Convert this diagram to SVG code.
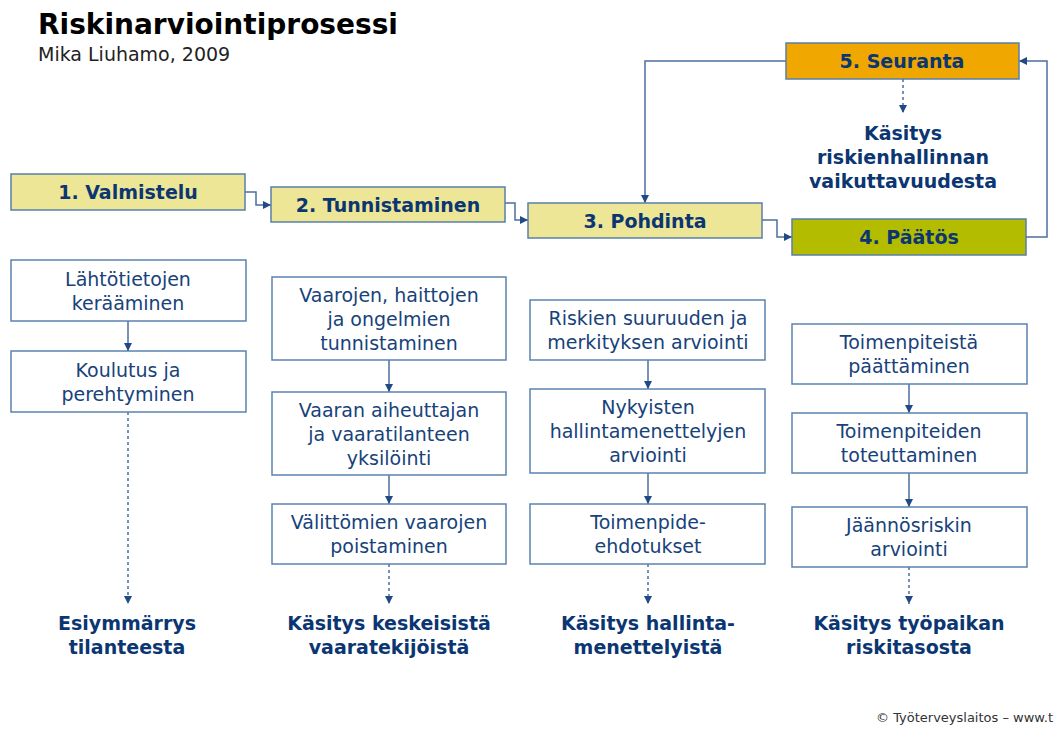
<svg xmlns="http://www.w3.org/2000/svg" width="1054" height="731" viewBox="0 0 1054 731">
<style>
.ph{stroke:#5a7fab;stroke-width:1.5}
.y{fill:#ede696}
.wb{fill:#ffffff;stroke:#5a82b0;stroke-width:1.5}
.pt{font-family:"DejaVu Sans",Verdana,sans-serif;font-weight:bold;font-size:19px;fill:#0b3672;text-anchor:middle}
.bt{font-family:"DejaVu Sans",Verdana,sans-serif;font-size:19px;fill:#17427a;text-anchor:middle}
.ot{font-family:"DejaVu Sans",Verdana,sans-serif;font-weight:bold;font-size:19px;fill:#0b3672;text-anchor:middle}
.c{fill:none;stroke:#4b6f9e;stroke-width:1.5}
.d{fill:none;stroke:#4b6f9e;stroke-width:1.5;stroke-dasharray:3,3}
</style>
<defs>
<marker id="ah" viewBox="0 0 8 8" markerWidth="8" markerHeight="8" refX="8" refY="4" orient="auto" markerUnits="userSpaceOnUse">
<path d="M0,0 L8,4 L0,8 z" fill="#1f4a85"/>
</marker>
</defs>
<rect width="1054" height="731" fill="#ffffff"/>
<g id="title">
<text x="38" y="34" font-family="DejaVu Sans,Verdana,sans-serif" font-weight="bold" font-size="28" fill="#000000">Riskinarviointiprosessi</text>
<text x="38" y="61" font-family="DejaVu Sans,Verdana,sans-serif" font-size="19" fill="#222222">Mika Liuhamo, 2009</text>
</g>
<g id="connectors">
<path class="c" d="M245,192 H256 V205 H271" marker-end="url(#ah)"/>
<path class="c" d="M505,203 H515 V220 H528" marker-end="url(#ah)"/>
<path class="c" d="M762,220 H777 V237 H792" marker-end="url(#ah)"/>
<path class="c" d="M1026,237 H1047 V61 H1019" marker-end="url(#ah)"/>
<path class="c" d="M786,61 H645 V203" marker-end="url(#ah)"/>
<path class="d" d="M903,79 V113" marker-end="url(#ah)"/>
<path class="c" d="M128,321 V351" marker-end="url(#ah)"/>
<path class="c" d="M389,360 V392" marker-end="url(#ah)"/>
<path class="c" d="M389,475 V504" marker-end="url(#ah)"/>
<path class="c" d="M648,360 V389" marker-end="url(#ah)"/>
<path class="c" d="M648,473 V504" marker-end="url(#ah)"/>
<path class="c" d="M909,384 V413" marker-end="url(#ah)"/>
<path class="c" d="M909,473 V507" marker-end="url(#ah)"/>
<path class="d" d="M128,412 V604" marker-end="url(#ah)"/>
<path class="d" d="M389,564 V604" marker-end="url(#ah)"/>
<path class="d" d="M648,564 V604" marker-end="url(#ah)"/>
<path class="d" d="M909,567 V604" marker-end="url(#ah)"/>
</g>
<g id="p1"><rect class="ph y" x="11" y="174" width="234" height="36"/><text class="pt" x="128" y="199">1. Valmistelu</text></g>
<g id="p2"><rect class="ph y" x="271" y="187" width="234" height="35"/><text class="pt" x="388" y="212">2. Tunnistaminen</text></g>
<g id="p3"><rect class="ph y" x="528" y="203" width="234" height="35"/><text class="pt" x="645" y="228">3. Pohdinta</text></g>
<g id="p4"><rect class="ph" fill="#b4bc00" x="792" y="219" width="234" height="36"/><text class="pt" x="909" y="244">4. Päätös</text></g>
<g id="p5"><rect class="ph" fill="#f0a800" x="786" y="43" width="233" height="36"/><text class="pt" x="902" y="68">5. Seuranta</text></g>
<g id="o5"><text class="ot" x="903" y="140">Käsitys</text><text class="ot" x="903" y="164">riskienhallinnan</text><text class="ot" x="903" y="188">vaikuttavuudesta</text></g>
<g id="b11"><rect class="wb" x="11" y="260" width="235" height="61"/><text class="bt" x="128" y="286">Lähtötietojen</text><text class="bt" x="128" y="310">kerääminen</text></g>
<g id="b12"><rect class="wb" x="11" y="351" width="235" height="61"/><text class="bt" x="128" y="377">Koulutus ja</text><text class="bt" x="128" y="401">perehtyminen</text></g>
<g id="b21"><rect class="wb" x="272" y="277" width="234" height="83"/><text class="bt" x="389" y="302">Vaarojen, haittojen</text><text class="bt" x="389" y="326">ja ongelmien</text><text class="bt" x="389" y="350">tunnistaminen</text></g>
<g id="b22"><rect class="wb" x="272" y="392" width="234" height="83"/><text class="bt" x="389" y="417">Vaaran aiheuttajan</text><text class="bt" x="389" y="441">ja vaaratilanteen</text><text class="bt" x="389" y="465">yksilöinti</text></g>
<g id="b23"><rect class="wb" x="272" y="504" width="234" height="60"/><text class="bt" x="389" y="529">Välittömien vaarojen</text><text class="bt" x="389" y="553">poistaminen</text></g>
<g id="b31"><rect class="wb" x="530" y="300" width="235" height="60"/><text class="bt" x="648" y="325">Riskien suuruuden ja</text><text class="bt" x="648" y="349">merkityksen arviointi</text></g>
<g id="b32"><rect class="wb" x="530" y="389" width="235" height="84"/><text class="bt" x="648" y="414">Nykyisten</text><text class="bt" x="648" y="438">hallintamenettelyjen</text><text class="bt" x="648" y="462">arviointi</text></g>
<g id="b33"><rect class="wb" x="530" y="504" width="235" height="60"/><text class="bt" x="648" y="529">Toimenpide-</text><text class="bt" x="648" y="553">ehdotukset</text></g>
<g id="b41"><rect class="wb" x="792" y="324" width="235" height="60"/><text class="bt" x="909" y="349">Toimenpiteistä</text><text class="bt" x="909" y="373">päättäminen</text></g>
<g id="b42"><rect class="wb" x="792" y="413" width="235" height="60"/><text class="bt" x="909" y="438">Toimenpiteiden</text><text class="bt" x="909" y="462">toteuttaminen</text></g>
<g id="b43"><rect class="wb" x="792" y="507" width="235" height="60"/><text class="bt" x="909" y="532">Jäännösriskin</text><text class="bt" x="909" y="556">arviointi</text></g>
<g id="o1"><text class="ot" x="127" y="630">Esiymmärrys</text><text class="ot" x="127" y="654">tilanteesta</text></g>
<g id="o2"><text class="ot" x="389" y="630">Käsitys keskeisistä</text><text class="ot" x="389" y="654">vaaratekijöistä</text></g>
<g id="o3"><text class="ot" x="648" y="630">Käsitys hallinta-</text><text class="ot" x="648" y="654">menettelyistä</text></g>
<g id="o4"><text class="ot" x="909" y="630">Käsitys työpaikan</text><text class="ot" x="909" y="654">riskitasosta</text></g>
<g id="footer"><text x="876" y="722" font-family="DejaVu Sans,Verdana,sans-serif" font-size="13" fill="#333333">© Työterveyslaitos – www.t</text></g>
</svg>
